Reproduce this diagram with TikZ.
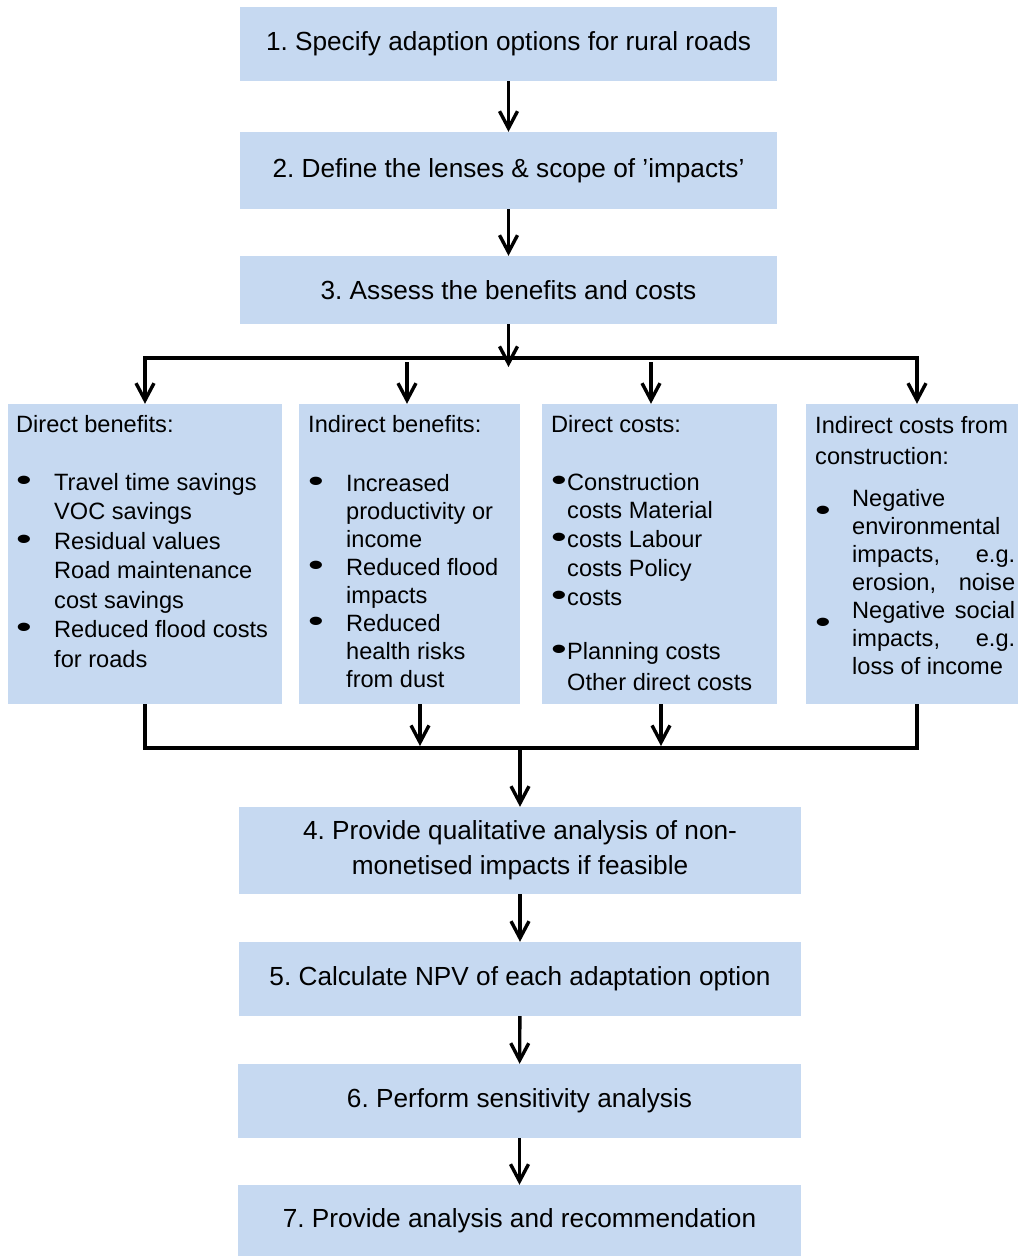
\documentclass[tikz,border=0pt]{standalone}
\usepackage{fontspec}
\setmainfont{Liberation Sans}
\usepackage{graphicx}
\usetikzlibrary{arrows.meta}
\definecolor{boxblue}{HTML}{C6D9F1}
\newcommand{\bul}{\scalebox{1.9}[1.3]{\textbullet}}
\frenchspacing
\begin{document}
\begin{tikzpicture}[x=1pt,y=-1pt,
  stepbox/.style={fill=boxblue, inner sep=0pt, align=center, font=\fontsize{26.2}{35}\selectfont},
  colbox/.style={fill=boxblue, inner sep=0pt},
  coltext/.style={anchor=north west, inner sep=0pt, align=left},
  arr/.style={line width=3.4pt, -{Straight Barb[length=17pt,width=18pt]}},
  link/.style={line width=3.4pt}]
\useasboundingbox (0,0) rectangle (1018,1256);
% steps 1-3
\node[stepbox, minimum width=537, minimum height=74] (s1) at (508.5,44) {1. Specify adaption options for rural roads};
\node[stepbox, minimum width=537, minimum height=77] (s2) at (508.5,170.5) {2. Define the lenses \& scope of ’impacts’};
\node[stepbox, minimum width=537, minimum height=68] (s3) at (508.5,290) {3. Assess the benefits and costs};
% four columns
\node[colbox, minimum width=274, minimum height=300] (colA) at (145,554) {};
\node[colbox, minimum width=221, minimum height=300] (colB) at (409.5,554) {};
\node[colbox, minimum width=235, minimum height=300] (colC) at (659.5,554) {};
\node[colbox, minimum width=212, minimum height=300] (colD) at (912,554) {};
\node[coltext, font=\fontsize{23.6}{29.5}\selectfont] (txtA) at (16,415) {Direct benefits:\\[28.5pt]
\makebox[38pt][l]{\bul}Travel time savings\\
\hspace*{38pt}VOC savings\\
\makebox[38pt][l]{\bul}Residual values\\
\hspace*{38pt}Road maintenance\\
\hspace*{38pt}cost savings\\
\makebox[38pt][l]{\bul}Reduced flood costs\\
\hspace*{38pt}for roads};
\node[coltext, font=\fontsize{23.6}{28}\selectfont] (txtB) at (308,415) {Indirect benefits:\\[31pt]
\makebox[38pt][l]{\bul}Increased\\
\hspace*{38pt}productivity or\\
\hspace*{38pt}income\\
\makebox[38pt][l]{\bul}Reduced flood\\
\hspace*{38pt}impacts\\
\makebox[38pt][l]{\bul}Reduced\\
\hspace*{38pt}health risks\\
\hspace*{38pt}from dust};
\node[coltext, font=\fontsize{23.6}{28.75}\selectfont] (txtC) at (551,415) {Direct costs:\\[29pt]
\makebox[16pt][l]{\bul}Construction\\
\hspace*{16pt}costs Material\\
\makebox[16pt][l]{\bul}costs Labour\\
\hspace*{16pt}costs Policy\\
\makebox[16pt][l]{\bul}costs\\[26pt]
\makebox[16pt][l]{\bul}Planning costs\\[2pt]
\hspace*{16pt}Other direct costs};
\node[coltext, font=\fontsize{23.6}{28}\selectfont] (txtD) at (815,416) {Indirect costs from\\[3pt]
construction:\\[14pt]
\makebox[37pt][l]{\raisebox{-14pt}[0pt][0pt]{\bul}}Negative\\
\hspace*{37pt}environmental\\
\hspace*{37pt}\makebox[163pt][s]{impacts, e.g.}\\
\hspace*{37pt}\makebox[163pt][s]{erosion, noise}\\
\makebox[37pt][l]{\raisebox{-14pt}[0pt][0pt]{\bul}}\makebox[163pt][s]{Negative social}\\
\hspace*{37pt}\makebox[163pt][s]{impacts, e.g.}\\
\hspace*{37pt}loss of income};
% steps 4-7
\node[stepbox, minimum width=562, minimum height=87] (s4) at (520,850.5) {4. Provide qualitative analysis of non-\\monetised impacts if feasible};
\node[stepbox, minimum width=562, minimum height=74] (s5) at (520,979) {5. Calculate NPV of each adaptation option};
\node[stepbox, minimum width=563, minimum height=74] (s6) at (519.5,1101) {6. Perform sensitivity analysis};
\node[stepbox, minimum width=563, minimum height=71] (s7) at (519.5,1220.5) {7. Provide analysis and recommendation};
% connectors
\coordinate (hub) at (508.5,367);
\coordinate (barL) at (145,358);
\coordinate (barR) at (917,358);
\coordinate (dropB) at (407,362);
\coordinate (dropC) at (651,362);
\coordinate (botL) at (145,748);
\coordinate (botR) at (917,748);
\coordinate (riseB) at (420,746);
\coordinate (riseC) at (661,746);
\draw[arr] (s1) -- (s2);
\draw[arr] (s2) -- (s3);
\draw[arr] (s3) -- (hub);
\draw[arr] (barR) -- (barL) -- (barL |- colA.north);
\draw[arr] (barL) -- (barR) -- (barR |- colD.north);
\draw[arr] (dropB) -- (dropB |- colB.north);
\draw[arr] (dropC) -- (dropC |- colC.north);
\draw[link] (botL |- colA.south) -- (botL) -- (botR) -- (botR |- colD.south);
\draw[arr] (riseB |- colB.south) -- (riseB);
\draw[arr] (riseC |- colC.south) -- (riseC);
\draw[arr] (botL -| s4.north) -- (s4.north);
\draw[arr] (s4) -- (s5);
\draw[arr] (s5) -- (s6);
\draw[arr] (s6) -- (s7);
\end{tikzpicture}
\end{document}
